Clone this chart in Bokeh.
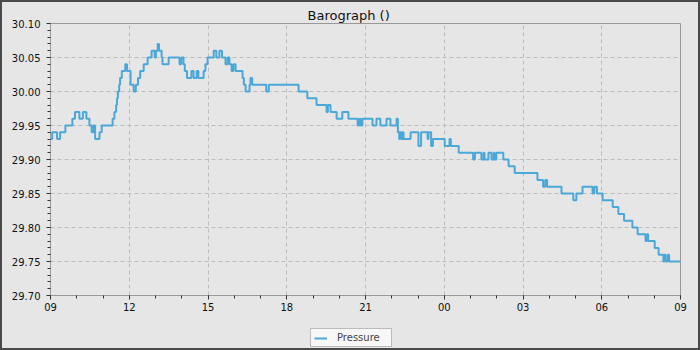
import pandas as pd
from bokeh.plotting import figure
from bokeh.layouts import column
from bokeh.models import (Range1d, FixedTicker, DatetimeTickFormatter, PrintfTickFormatter,
                          Legend, LegendItem)
from bokeh.embed import file_html
from bokeh.resources import INLINE

# ---- data: minutes after 09:00 at which the pressure (inHg) changes ----
start_time = "2024-01-01 09:00"
minutes = [0, 4, 15, 22, 34, 50, 56, 66, 74, 82, 89, 94, 98, 102, 112, 117, 142, 146, 150, 152,
           154, 157, 159, 163, 171, 175, 183, 190, 195, 200, 205, 213, 222, 231, 238, 241, 245,
           248, 254, 256, 270, 295, 299, 304, 307, 312, 322, 327, 334, 338, 350, 354, 359, 373,
           379, 386, 392, 400, 405, 409, 414, 418, 423, 439, 442, 446, 455, 457, 461, 493, 499,
           567, 587, 608, 631, 634, 640, 654, 667, 681, 702, 706, 709, 713, 736, 745, 754, 768,
           777, 791, 794, 797, 799, 802, 805, 807, 823, 841, 847, 862, 864, 870, 874, 901, 912,
           915, 933, 966, 970, 985, 990, 992, 1001, 1008, 1013, 1015, 1019, 1035, 1047, 1061,
           1113, 1126, 1131, 1135, 1168, 1195, 1202, 1216, 1239, 1243, 1249, 1262, 1285, 1298,
           1311, 1330, 1342, 1360, 1363, 1366, 1381, 1390, 1401, 1403, 1406, 1411, 1414, 1440]
pressure = [29.93, 29.94, 29.93, 29.94, 29.95, 29.96, 29.97, 29.96, 29.97, 29.96, 29.95, 29.94,
            29.95, 29.93, 29.94, 29.95, 29.96, 29.97, 29.98, 29.99, 30.00, 30.01, 30.02, 30.03,
            30.04, 30.03, 30.01, 30.00, 30.01, 30.02, 30.03, 30.04, 30.05, 30.06, 30.05, 30.06,
            30.07, 30.06, 30.05, 30.04, 30.05, 30.04, 30.05, 30.04, 30.03, 30.02, 30.03, 30.02,
            30.03, 30.02, 30.03, 30.04, 30.05, 30.06, 30.05, 30.06, 30.05, 30.04, 30.05, 30.04,
            30.03, 30.04, 30.03, 30.02, 30.01, 30.00, 30.01, 30.02, 30.01, 30.00, 30.01, 30.00,
            29.99, 29.98, 29.97, 29.98, 29.97, 29.96, 29.97, 29.96, 29.95, 29.96, 29.95, 29.96,
            29.95, 29.96, 29.95, 29.96, 29.95, 29.96, 29.94, 29.93, 29.94, 29.93, 29.94, 29.93,
            29.94, 29.92, 29.94, 29.93, 29.94, 29.92, 29.93, 29.92, 29.93, 29.92, 29.91, 29.90,
            29.91, 29.90, 29.91, 29.90, 29.91, 29.90, 29.91, 29.90, 29.91, 29.90, 29.89, 29.88,
            29.87, 29.86, 29.87, 29.86, 29.85, 29.84, 29.85, 29.86, 29.85, 29.86, 29.85, 29.84,
            29.83, 29.82, 29.81, 29.80, 29.79, 29.78, 29.79, 29.78, 29.77, 29.76, 29.75, 29.76,
            29.75, 29.76, 29.75, 29.75]
series_name = "Pressure"
chart_title = "Barograph ()"
y_major = [29.70, 29.75, 29.80, 29.85, 29.90, 29.95, 30.00, 30.05, 30.10]
x_major_hours = [0, 3, 6, 9, 12, 15, 18, 21, 24]

t0 = pd.Timestamp(start_time)
times = [t0 + pd.Timedelta(minutes=m) for m in minutes]
t_end = t0 + pd.Timedelta(hours=24)

def ms(ts):
    return ts.value / 1e6

BG = "#e6e6e6"
FONT = "DejaVu Sans"
LINE = "#4aa8d8"

# ---------------- main chart ----------------
p = figure(width=696, height=323, output_backend="svg", toolbar_location=None,
           x_axis_type="datetime",
           x_range=Range1d(times[0], t_end), y_range=Range1d(29.70, 30.10),
           min_border_left=48, min_border_right=18, min_border_top=21, min_border_bottom=30,
           background_fill_color=BG, border_fill_color=BG, outline_line_color="#999999")

p.title.text = chart_title
p.title.align = "left"
p.title.offset = 257
p.title.text_font = FONT
p.title.text_font_size = "13px"
p.title.text_font_style = "normal"
p.title.text_color = "#111111"
p.title.standoff = 2

r = p.step(times, pressure, mode="after", line_color=LINE, line_width=2)

xa = p.xaxis[0]
xa.ticker = FixedTicker(ticks=[ms(t0 + pd.Timedelta(hours=h)) for h in x_major_hours],
                        minor_ticks=[ms(t0 + pd.Timedelta(hours=h)) for h in range(0, 25)])
xa.formatter = DatetimeTickFormatter(hours="%H", hourmin="%H", days="%H", minutes="%H",
                                     minsec="%H", seconds="%H", months="%H", years="%H")
ya = p.yaxis[0]
ya.ticker = FixedTicker(ticks=y_major,
                        minor_ticks=[round(29.70 + 0.01 * i, 2) for i in range(41)])
ya.formatter = PrintfTickFormatter(format="%.2f")
for ax in (xa, ya):
    ax.axis_line_color = "#999999"
    ax.major_tick_line_color = "#333333"
    ax.minor_tick_line_color = "#333333"
    ax.major_tick_in = 0
    ax.major_tick_out = 4
    ax.minor_tick_in = 0
    ax.minor_tick_out = 3
    ax.major_label_text_font = FONT
    ax.major_label_text_font_size = "10px"
    ax.major_label_text_color = "#111111"
xa.major_label_standoff = 3
ya.major_label_standoff = 6

for g in (p.xgrid[0], p.ygrid[0]):
    g.grid_line_color = "#bdbdbd"
    g.grid_line_dash = "4 3"
    g.grid_line_width = 1

# ---------------- legend strip ----------------
q = figure(width=696, height=23, output_backend="svg", toolbar_location=None,
           x_axis_location=None, y_axis_location=None,
           min_border_left=0, min_border_right=0, min_border_top=0, min_border_bottom=0,
           background_fill_color=BG, border_fill_color=BG,
           outline_line_color=None)
q.grid.visible = False
# one-point proxy line (draws nothing itself) that supplies the legend swatch
proxy = q.line(x=times[:1], y=pressure[:1], line_color=LINE, line_width=2)
legend = Legend(items=[LegendItem(label=series_name, renderers=[proxy])],
                location=(260, 1), orientation="horizontal",
                background_fill_color="#f7f7f7", background_fill_alpha=1.0,
                border_line_color="#808080", label_text_font=FONT,
                label_text_font_size="10px", glyph_width=13, glyph_height=10,
                padding=3, margin=0, label_standoff=10, label_height=10, label_width=51)
q.add_layout(legend, "center")

page = column(p, q, spacing=0)
page.styles = {"border": "2px solid #4a4a4a", "background-color": BG}

open("out.html", "w").write(file_html(page, INLINE))
